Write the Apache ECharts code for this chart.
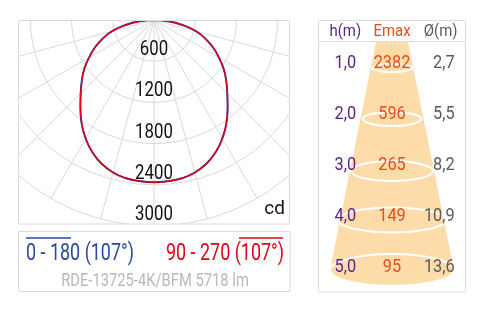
<!DOCTYPE html>
<html><head><meta charset="utf-8">
<script src="https://cdn.jsdelivr.net/npm/echarts@6/dist/echarts.min.js"></script>
<style>html,body{margin:0;padding:0;background:#fff}#c{width:481px;height:313px}</style>
</head><body><div id="c"></div>
<script>
// ---- data ----
const gammaDeg = [0, 5, 10, 15, 20, 25, 30, 35, 40, 45, 50, 55, 60, 65, 70, 75, 80, 85, 90];
const intensityC0 = [2362, 2356, 2340, 2300, 2228, 2125, 1990, 1838, 1668, 1510, 1372, 1238, 1090, 950, 795, 635, 420, 205, 0];
const intensityC90 = [2362, 2356, 2340, 2300, 2228, 2125, 1990, 1838, 1668, 1510, 1372, 1238, 1090, 950, 795, 635, 420, 205, 0];
const radiusTickValues = [600, 1200, 1800, 2400, 3000];
const unitLabel = 'cd';
const legendLeftText = '0 - 180 (107°)';
const legendRightText = '90 - 270 (107°)';
const productText = 'RDE-13725-4K/BFM 5718 lm';
const tableHeader = ['h(m)', 'Emax', 'Ø(m)'];
const heights = [1, 2, 3, 4, 5];
const emax = [2382, 596, 265, 149, 95];
const diameters = [2.7, 5.5, 8.2, 10.9, 13.6];

// ---- build ----
const FONT = 'Roboto, "Liberation Sans", sans-serif';
function curve(vals) {
  const pts = [];
  for (let i = gammaDeg.length - 1; i > 0; i--) pts.push([vals[i], -gammaDeg[i]]);
  for (let i = 0; i < gammaDeg.length; i++) pts.push([vals[i], gammaDeg[i]]);
  return pts;
}
const fmt1 = v => v.toFixed(1).replace('.', ',');
const PURPLE = '#5b2585', ORANGE = '#e84e1b', GRAY = '#5a5a5a';
const GRID = '#dadada', BORDER = '#dcdcdc';
const BLUE = '#2b4a9e', RED = '#e2001a';

const chart = echarts.init(document.getElementById('c'), null, {renderer: 'canvas'});

const option = {
  animation: false,
  backgroundColor: '#fff',
  polar: {center: [154, 20], radius: 206},
  angleAxis: {
    type: 'value', min: -180, max: 180, interval: 15, startAngle: 90, clockwise: true,
    axisLine: {show: false}, axisTick: {show: false}, axisLabel: {show: false},
    splitLine: {show: true, lineStyle: {color: GRID, width: 1}}
  },
  radiusAxis: {
    type: 'value', min: 0, max: 3000, interval: 600,
    axisLine: {show: false}, axisTick: {show: false}, axisLabel: {show: false},
    splitLine: {show: true, lineStyle: {color: GRID, width: 1}}
  },
  grid: [{left: 319, top: 12, width: 146, height: 255, show: false}],
  xAxis: [{
    gridIndex: 0, type: 'category', data: tableHeader, show: false
  }],
  yAxis: [{
    gridIndex: 0, type: 'value', inverse: true, min: 0, max: 5, offset: 1,
    axisLine: {show: false}, splitLine: {show: false}, axisLabel: {show: false},
    axisTick: {show: true, inside: true, length: 5, customValues: heights, lineStyle: {color: '#c8c8c8'}}
  }],
  series: [
    {type: 'line', coordinateSystem: 'polar', data: curve(intensityC0), symbol: 'none', smooth: 0.5, clip: false,
      lineStyle: {color: '#243f93', width: 1.9}, z: 2, silent: true},
    {type: 'line', coordinateSystem: 'polar', data: curve(intensityC90), symbol: 'none', smooth: 0.5, clip: false,
      lineStyle: {color: RED, width: 1.4}, z: 3, silent: true},
    {type: 'scatter', xAxisIndex: 0, yAxisIndex: 0, symbolSize: 0, silent: true,
      data: heights.map(h => [0, h])}
  ]
};
chart.setOption(option);

function txt(x, y, text, size, color, align, sx, z) {
  return {type: 'text', x: x, y: y, scaleX: sx, z: z || 20, silent: true,
    style: {text: text, font: size + 'px ' + FONT, fill: color, align: align, verticalAlign: 'middle'}};
}
function polarPx(r, g) {
  try { const p = chart.convertToPixel({seriesIndex: 0}, [r, g]); if (p && isFinite(p[0]) && isFinite(p[1])) return p; } catch (e) {}
  return [154, 20 + r / 3000 * 206];
}
function gridPx(c, h) {
  try { const p = chart.convertToPixel({gridIndex: 0}, [c, h]); if (p && isFinite(p[0]) && isFinite(p[1])) return p; } catch (e) {}
  const w = 146 / 3;
  return [319 + w * (c + 0.5), 12 + h * 51];
}

const coneRows = [
  {cy: 68, rx: 20, ry: 4},
  {cy: 119, rx: 29, ry: 7},
  {cy: 171, rx: 41, ry: 10},
  {cy: 220, rx: 54, ry: 12.5},
  {cy: 270, rx: 62, ry: 16}
];

const graphics = [
  {type: 'rect', shape: {x: 0, y: 0, width: 481, height: 20}, style: {fill: '#fff'}, z: 5, silent: true},
  {type: 'rect', shape: {x: 0, y: 0, width: 18, height: 313}, style: {fill: '#fff'}, z: 5, silent: true},
  {type: 'rect', shape: {x: 290, y: 0, width: 191, height: 313}, style: {fill: '#fff'}, z: 5, silent: true},
  {type: 'rect', shape: {x: 0, y: 224, width: 481, height: 89}, style: {fill: '#fff'}, z: 5, silent: true},
  {type: 'rect', shape: {x: 18.5, y: 20.5, width: 271, height: 203.5}, style: {fill: 'none', stroke: BORDER, lineWidth: 1}, z: 6},
  {type: 'rect', shape: {x: 18.5, y: 231.5, width: 271.5, height: 60}, style: {fill: 'none', stroke: BORDER, lineWidth: 1}, z: 6},
  {type: 'rect', shape: {x: 318.5, y: 20.5, width: 147, height: 271.5}, style: {fill: 'none', stroke: BORDER, lineWidth: 1}, z: 6},
  {type: 'line', shape: {x1: 318.5, y1: 41.5, x2: 465.5, y2: 41.5}, style: {stroke: BORDER, lineWidth: 1}, z: 6},
  {type: 'polygon', shape: {points: [[376, 42], [408, 42], [454, 270], [330, 270]]}, style: {fill: '#fddcaa'}, z: 6},
  {type: 'ellipse', shape: {cx: 392, cy: 270, rx: 62, ry: 16}, style: {fill: '#fddcaa'}, z: 6}
];
coneRows.forEach(r => graphics.push({type: 'ellipse', shape: {cx: 392, cy: r.cy, rx: r.rx, ry: r.ry},
  style: {fill: 'none', stroke: '#fff', lineWidth: 2}, z: 7}));

// radius labels, just above each ring on the 0° ray
radiusTickValues.forEach(v => {
  const p = polarPx(v, 0);
  graphics.push(txt(p[0], p[1] - 11, String(v), 20, '#111', 'center', 0.84, 8));
});
graphics.push(txt(285, 209, unitLabel, 19, '#111', 'right', 1, 8));

// legend
graphics.push(
  {type: 'line', shape: {x1: 26, y1: 238, x2: 71, y2: 238}, style: {stroke: BLUE, lineWidth: 1.5}, z: 7},
  txt(26, 254, legendLeftText, 23, BLUE, 'left', 0.78),
  {type: 'line', shape: {x1: 239, y1: 238, x2: 283, y2: 238}, style: {stroke: RED, lineWidth: 1.5}, z: 7},
  txt(284, 254, legendRightText, 23, RED, 'right', 0.78),
  txt(155, 281, productText, 18, '#b8b8b8', 'center', 0.82)
);

// table header and values
const colColors = [PURPLE, ORANGE, GRAY];
tableHeader.forEach((t, c) => {
  const p = gridPx(c, 0);
  graphics.push(txt(p[0] + (c === 0 ? 2 : 0), 32, t, 17, colColors[c], 'center', 0.88));
});
heights.forEach((h, i) => {
  const p0 = gridPx(0, h), p1 = gridPx(1, h), p2 = gridPx(2, h);
  graphics.push(txt(p0[0] + 2, p0[1], fmt1(h), 19, PURPLE, 'center', 0.86));
  graphics.push(txt(p1[0], p1[1], String(emax[i]), 19, ORANGE, 'center', 0.86));
  graphics.push(txt(p2[0] + 14, p2[1], fmt1(diameters[i]), 19, GRAY, 'right', 0.86));
});

chart.setOption({graphic: {elements: graphics}});
</script>
</body></html>
